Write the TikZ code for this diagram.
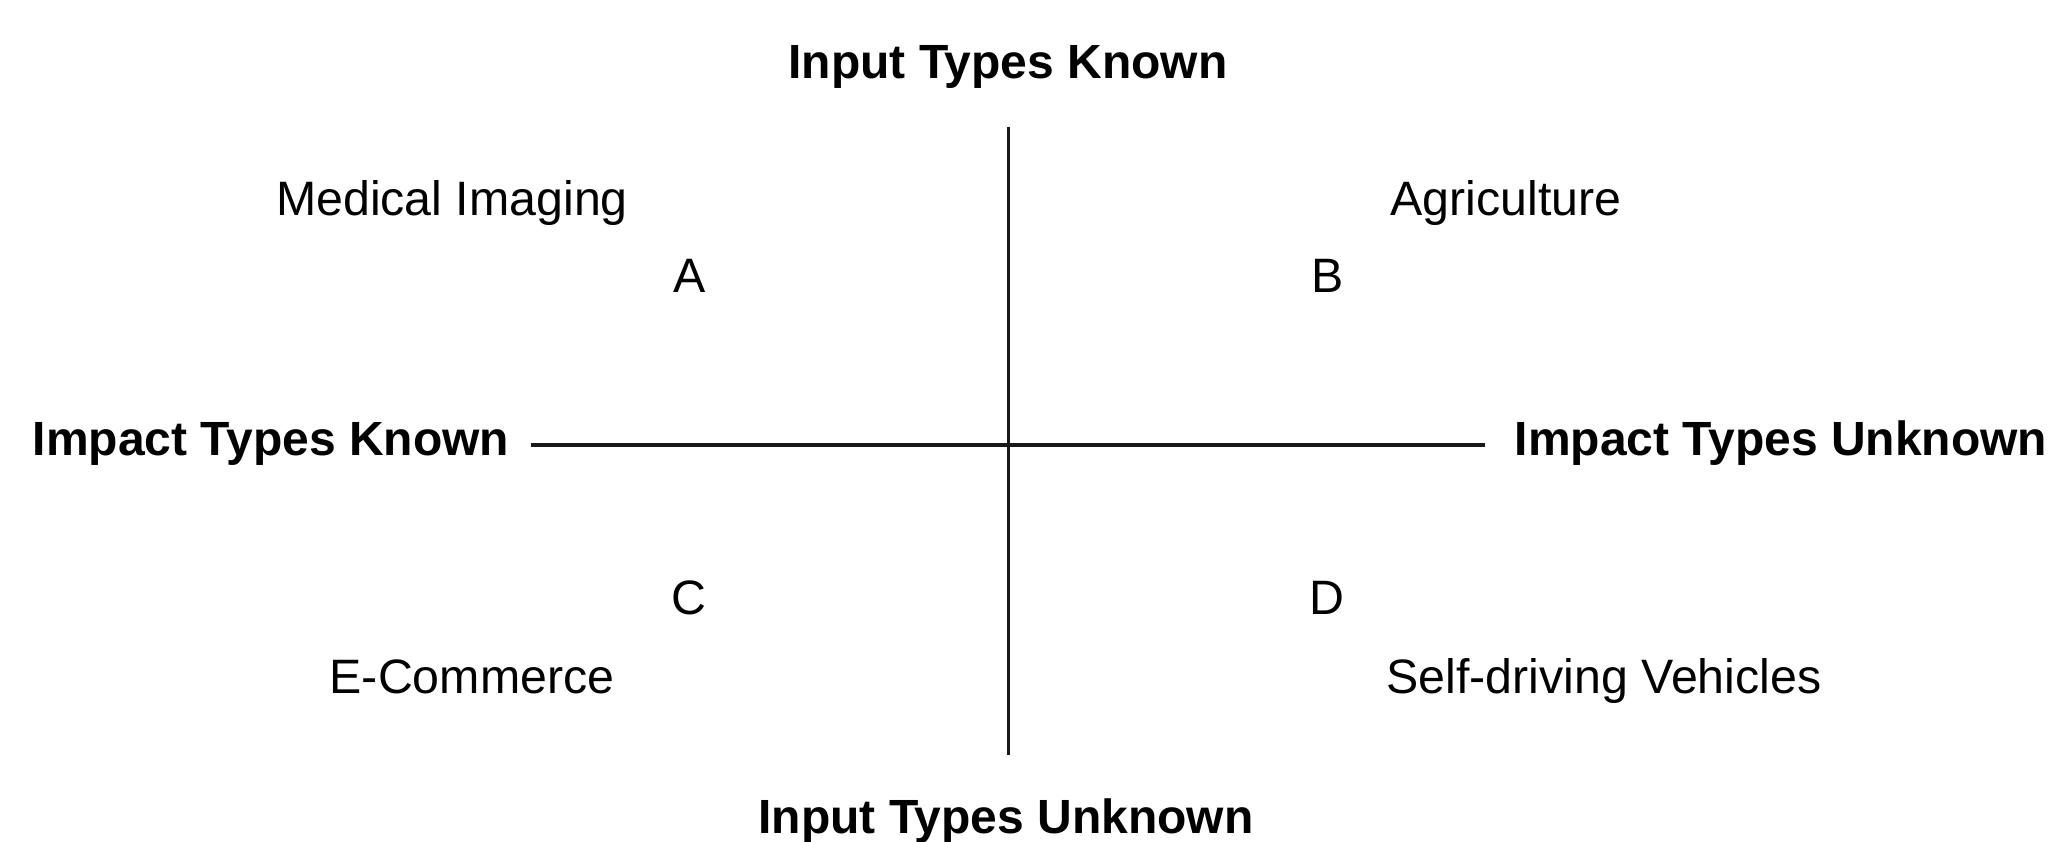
\documentclass[tikz,border=0pt]{standalone}
\usepackage{fontspec}
\setmainfont{Liberation Sans}
\begin{document}
\begin{tikzpicture}[x=1pt,y=-1pt,
  axislabel/.style={anchor=base,inner sep=0pt,font=\fontsize{48}{58}\selectfont\bfseries},
  itemlabel/.style={anchor=base,inner sep=0pt,font=\fontsize{48.3}{58}\selectfont},
  axis/.style={draw=black!90,line cap=butt}]
\useasboundingbox (0,0) rectangle (2055,841);

% axes end points
\coordinate (vtop) at (1008,127);
\coordinate (vbot) at (1008,755);
\coordinate (hleft) at (531,445);
\coordinate (hright) at (1485,445);

\draw[axis,line width=3pt] (vtop) -- (vbot);
\draw[axis,line width=4pt] (hleft) -- (hright);

% axis labels
\node[axislabel] (ink) at (1008,78) {Input Types Known};
\node[axislabel] (inu) at (1006,833) {Input Types Unknown};
\node[axislabel] (imk) at (271,455) {Impact Types Known};
\node[axislabel] (imu) at (1781,455) {Impact Types Unknown};

% quadrant letters
\node[itemlabel] (qa) at (690,292) {A};
\node[itemlabel] (qb) at (1328,292) {B};
\node[itemlabel] (qc) at (689,614) {C};
\node[itemlabel] (qd) at (1327,614) {D};

% examples
\node[itemlabel] (med) at (452,215) {Medical Imaging};
\node[itemlabel] (agr) at (1506,215) {Agriculture};
\node[itemlabel] (eco) at (472,693) {E-Commerce};
\node[itemlabel] (sdv) at (1604,693) {Self-driving Vehicles};
\end{tikzpicture}
\end{document}
